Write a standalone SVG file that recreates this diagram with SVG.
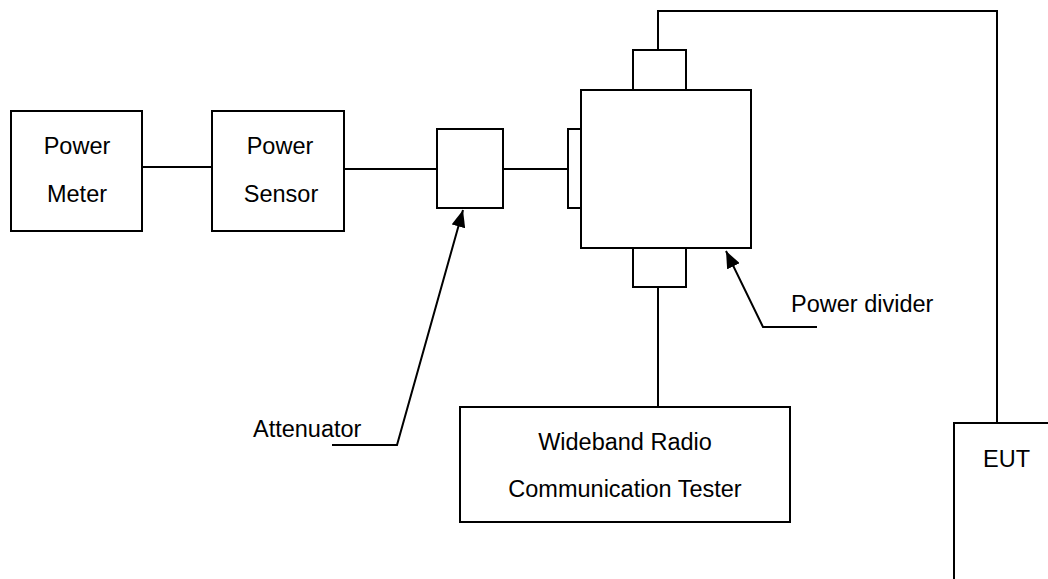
<svg xmlns="http://www.w3.org/2000/svg" width="1048" height="579" viewBox="0 0 1048 579">
<style>
.b{fill:#fff;stroke:#000;stroke-width:2}
.c{fill:none;stroke:#000;stroke-width:2}
.t{font-family:"Liberation Sans",Arial,sans-serif;font-size:23.5px;fill:#000}
.m{text-anchor:middle}
</style>
<defs>
<marker id="ah" markerUnits="userSpaceOnUse" markerWidth="18" markerHeight="14" refX="17" refY="7" orient="auto">
<path d="M0,0 L17,7 L0,14 z" fill="#000"/>
</marker>
</defs>
<rect width="1048" height="579" fill="#fff"/>
<g id="connectors">
<path class="c" d="M142,167 H212"/>
<path class="c" d="M344,169 H437"/>
<path class="c" d="M503,169 H568"/>
<path class="c" d="M658,50 V11 H997 V423"/>
<path class="c" d="M658,287 V406"/>
<path class="c" d="M332,445 H397 L463,210" marker-end="url(#ah)"/>
<path class="c" d="M817,327 H763 L726,251" marker-end="url(#ah)"/>
</g>
<g id="power-meter">
<rect class="b" x="11" y="111" width="131" height="120"/>
<text class="t m" x="77" y="154">Power</text>
<text class="t m" x="77" y="202">Meter</text>
</g>
<g id="power-sensor">
<rect class="b" x="212" y="111" width="132" height="120"/>
<text class="t m" x="280" y="154">Power</text>
<text class="t m" x="281" y="202">Sensor</text>
</g>
<g id="attenuator">
<rect class="b" x="437" y="129" width="66" height="79"/>
</g>
<g id="power-divider">
<rect class="b" x="568" y="129" width="13" height="79"/>
<rect class="b" x="633" y="50" width="53" height="40"/>
<rect class="b" x="633" y="248" width="53" height="39"/>
<rect class="b" x="581" y="90" width="170" height="158"/>
</g>
<g id="tester">
<rect class="b" x="460" y="407" width="330" height="115"/>
<text class="t m" x="625" y="450">Wideband Radio</text>
<text class="t m" x="625" y="497">Communication Tester</text>
</g>
<g id="eut">
<rect class="b" x="954" y="423" width="200" height="200"/>
<text class="t" x="983" y="467">EUT</text>
</g>
<g id="labels">
<text class="t" x="253" y="437">Attenuator</text>
<text class="t" x="791" y="312">Power divider</text>
</g>
</svg>
